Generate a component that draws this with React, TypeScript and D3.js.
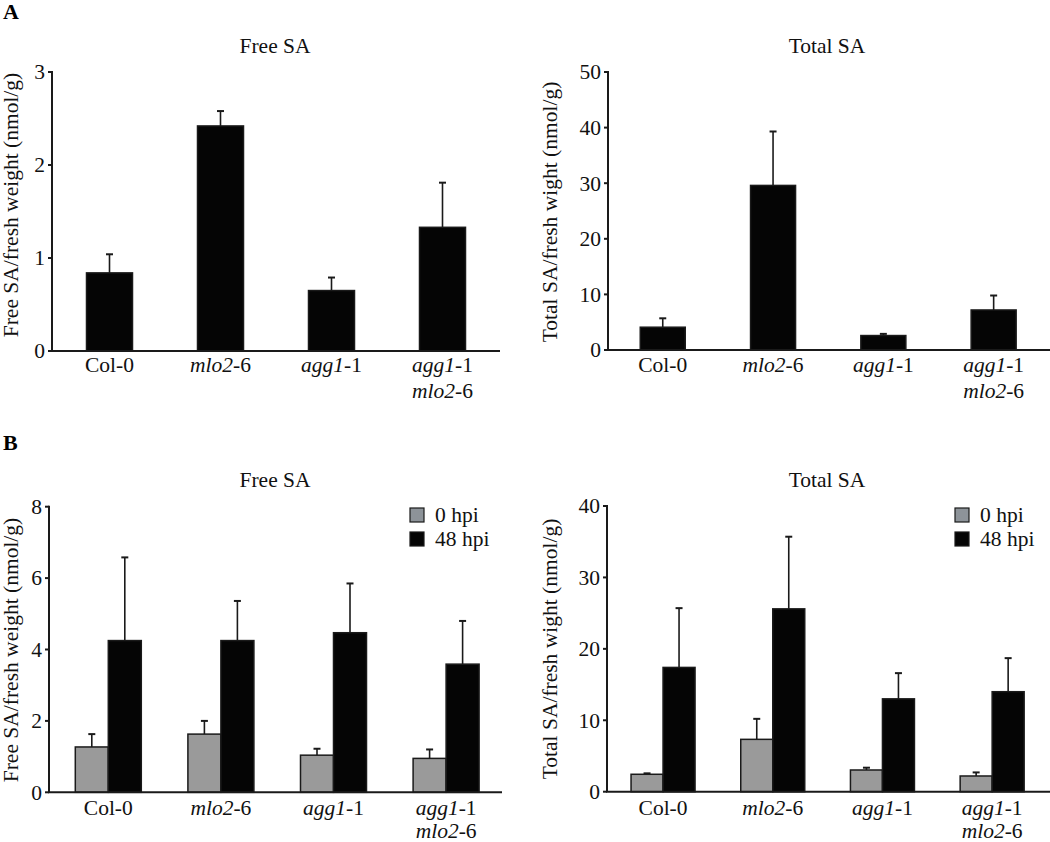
import React from "react";
import * as d3 from "d3";

const categories = ["Col-0", "mlo2-6", "agg1-1", "agg1-1 mlo2-6"];
const seriesNames = ["0 hpi", "48 hpi"];

// Panel A
const freeSA_A = [0.84, 2.42, 0.65, 1.33];
const freeSA_A_err = [0.2, 0.16, 0.14, 0.48];
const totalSA_A = [4.1, 29.6, 2.6, 7.2];
const totalSA_A_err = [1.6, 9.7, 0.3, 2.6];

// Panel B
const freeSA_B_0 = [1.27, 1.63, 1.04, 0.95];
const freeSA_B_0_err = [0.36, 0.37, 0.18, 0.25];
const freeSA_B_48 = [4.25, 4.25, 4.47, 3.59];
const freeSA_B_48_err = [2.33, 1.11, 1.38, 1.21];
const totalSA_B_0 = [2.44, 7.33, 3.04, 2.2];
const totalSA_B_0_err = [0.13, 2.87, 0.32, 0.5];
const totalSA_B_48 = [17.4, 25.6, 13.0, 14.0];
const totalSA_B_48_err = [8.3, 10.1, 3.6, 4.7];

const ticksFreeA = [0, 1, 2, 3];
const ticksTotalA = [0, 10, 20, 30, 40, 50];
const ticksFreeB = [0, 2, 4, 6, 8];
const ticksTotalB = [0, 10, 20, 30, 40];

const FONT = "'Liberation Serif', 'Times New Roman', serif";
const FS = 21.5;
const AX = "#1a1a1a";
const GRAY = "#9a9a9a";
const BLACK = "#050505";

function LabelText({ text, x, y }: { text: string; x: number; y: number }) {
  const parts = text.split(/(mlo2|agg1)/).filter((p) => p.length > 0);
  return (
    <tspan x={x} y={y}>
      {parts.map((p, i) => (
        <tspan key={i} fontStyle={p === "mlo2" || p === "agg1" ? "italic" : "normal"}>
          {p}
        </tspan>
      ))}
    </tspan>
  );
}

type Series = { name: string; values: number[]; errs: number[]; fill: string };

type PanelProps = {
  title: string;
  yLabel: string;
  axisX: number;
  axisEnd: number;
  yBottom: number;
  yTop: number;
  yMax: number;
  ticks: number[];
  bandStart: number;
  bandEnd: number;
  barWidth: number;
  series: Series[];
  titleX: number;
  titleY: number;
  yLabelX: number;
  yLabelY: number;
  catY: number;
  lineGap: number;
  legend?: { x: number; y: number };
};

function Panel(p: PanelProps) {
  const y = d3.scaleLinear().domain([0, p.yMax]).range([p.yBottom, p.yTop]);
  const x = d3.scaleBand<string>().domain(categories).range([p.bandStart, p.bandEnd]).padding(0);
  const inner = d3
    .scaleBand<string>()
    .domain(p.series.map((s) => s.name))
    .range([-(p.barWidth * p.series.length) / 2, (p.barWidth * p.series.length) / 2]);
  return (
    <g fontFamily={FONT} fontSize={FS} fill="#111">
      <text x={p.titleX} y={p.titleY} textAnchor="middle">
        {p.title}
      </text>
      <text
        transform={`translate(${p.yLabelX},${p.yLabelY}) rotate(-90)`}
        textAnchor="middle"
      >
        {p.yLabel}
      </text>
      {p.series.map((s) =>
        categories.map((c, i) => {
          const cx = (x(c) as number) + x.bandwidth() / 2;
          const bx = cx + (inner(s.name) as number);
          const top = y(s.values[i]);
          const errTop = y(s.values[i] + s.errs[i]);
          const mid = bx + inner.bandwidth() / 2;
          return (
            <g key={s.name + c}>
              <line x1={mid} x2={mid} y1={top} y2={errTop} stroke={AX} strokeWidth={1.6} />
              <line x1={mid - 3.5} x2={mid + 3.5} y1={errTop} y2={errTop} stroke={AX} strokeWidth={2} />
              <rect
                x={bx}
                y={top}
                width={inner.bandwidth()}
                height={p.yBottom - top}
                fill={s.fill}
                stroke={AX}
                strokeWidth={1.5}
              />
            </g>
          );
        })
      )}
      <line x1={p.axisX} x2={p.axisX} y1={p.yTop - 1} y2={p.yBottom} stroke={AX} strokeWidth={2} />
      <line x1={p.axisX - 1} x2={p.axisEnd} y1={p.yBottom} y2={p.yBottom} stroke={AX} strokeWidth={2} />
      {p.ticks.map((t) => (
        <g key={t}>
          <line x1={p.axisX - 4} x2={p.axisX} y1={y(t)} y2={y(t)} stroke={AX} strokeWidth={2} />
          <text x={p.axisX - 7} y={y(t)} dy="0.34em" textAnchor="end">
            {t}
          </text>
        </g>
      ))}
      {categories.map((c) => {
        const cx = (x(c) as number) + x.bandwidth() / 2;
        const lines = c === "agg1-1 mlo2-6" ? ["agg1-1", "mlo2-6"] : [c];
        return (
          <text key={c} textAnchor="middle">
            {lines.map((l, j) => (
              <LabelText key={j} text={l} x={cx} y={p.catY + j * p.lineGap} />
            ))}
          </text>
        );
      })}
      {p.legend &&
        p.series.map((s, i) => (
          <g key={s.name}>
            <rect
              x={p.legend!.x}
              y={p.legend!.y + i * 24}
              width={14}
              height={14}
              fill={s.fill === GRAY ? "#8d9399" : s.fill}
              stroke={AX}
              strokeWidth={1.2}
            />
            <text x={p.legend!.x + 25} y={p.legend!.y + i * 24 + 14}>
              {s.name}
            </text>
          </g>
        ))}
    </g>
  );
}

export default function App() {
  return (
    <svg
      width={1050}
      height={842}
      style={{ position: "absolute", left: 0, top: 0, background: "#fff" }}
    >
      <text x={3} y={19} fontFamily={FONT} fontSize={22} fontWeight="bold">
        A
      </text>
      <text x={3} y={450} fontFamily={FONT} fontSize={22} fontWeight="bold">
        B
      </text>
      <Panel
        title="Free SA"
        yLabel="Free SA/fresh weight (nmol/g)"
        axisX={52}
        axisEnd={500}
        yBottom={351}
        yTop={72}
        yMax={3}
        ticks={ticksFreeA}
        bandStart={54}
        bandEnd={498}
        barWidth={46}
        series={[{ name: "value", values: freeSA_A, errs: freeSA_A_err, fill: BLACK }]}
        titleX={275}
        titleY={53}
        yLabelX={18}
        yLabelY={205}
        catY={372}
        lineGap={26}
      />
      <Panel
        title="Total SA"
        yLabel="Total SA/fresh wight (nmol/g)"
        axisX={608}
        axisEnd={1050}
        yBottom={350}
        yTop={72}
        yMax={50}
        ticks={ticksTotalA}
        bandStart={607.6}
        bandEnd={1048.8}
        barWidth={45}
        series={[{ name: "value", values: totalSA_A, errs: totalSA_A_err, fill: BLACK }]}
        titleX={827}
        titleY={53}
        yLabelX={557}
        yLabelY={212}
        catY={372}
        lineGap={26}
      />
      <Panel
        title="Free SA"
        yLabel="Free SA/fresh weight (nmol/g)"
        axisX={49}
        axisEnd={502}
        yBottom={792.3}
        yTop={506.7}
        yMax={8}
        ticks={ticksFreeB}
        bandStart={52}
        bandEnd={502.4}
        barWidth={33}
        series={[
          { name: seriesNames[0], values: freeSA_B_0, errs: freeSA_B_0_err, fill: GRAY },
          { name: seriesNames[1], values: freeSA_B_48, errs: freeSA_B_48_err, fill: BLACK },
        ]}
        titleX={275}
        titleY={487}
        yLabelX={18}
        yLabelY={650}
        catY={815}
        lineGap={23}
        legend={{ x: 410, y: 508 }}
      />
      <Panel
        title="Total SA"
        yLabel="Total SA/fresh wight (nmol/g)"
        axisX={607}
        axisEnd={1050}
        yBottom={791.7}
        yTop={506}
        yMax={40}
        ticks={ticksTotalB}
        bandStart={608.2}
        bandEnd={1047}
        barWidth={32}
        series={[
          { name: seriesNames[0], values: totalSA_B_0, errs: totalSA_B_0_err, fill: GRAY },
          { name: seriesNames[1], values: totalSA_B_48, errs: totalSA_B_48_err, fill: BLACK },
        ]}
        titleX={827}
        titleY={487}
        yLabelX={557}
        yLabelY={649}
        catY={815}
        lineGap={23}
        legend={{ x: 955, y: 508 }}
      />
    </svg>
  );
}
